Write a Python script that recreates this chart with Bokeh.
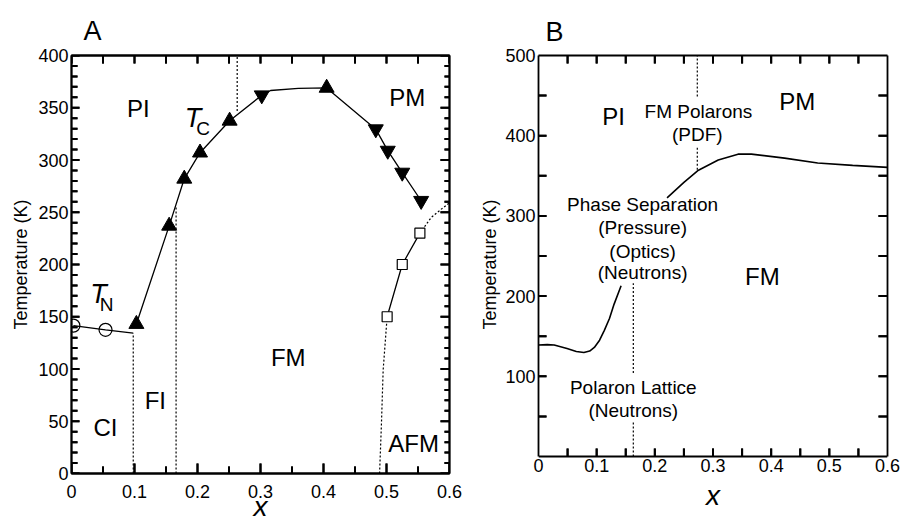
import math
from bokeh.plotting import figure
from bokeh.layouts import row
from bokeh.models import LinearAxis, FixedTicker, Range1d
from bokeh.core.properties import value
from bokeh.embed import file_html
from bokeh.resources import INLINE

FONT = "Liberation Sans"

# ---------------- Panel A data ----------------
tn_x = [0.003, 0.054]
tn_T = [141.5, 137.5]
tn_line_x = [0.003, 0.054, 0.098]
tn_line_T = [141.5, 137.5, 134.3]

tc_up_x = [0.103, 0.155, 0.179, 0.204, 0.251, 0.405]
tc_up_T = [143, 237, 282, 307, 337.5, 369]
tc_down_x = [0.302, 0.483, 0.502, 0.525, 0.555]
tc_down_T = [362, 329.5, 309, 288, 261]
tc_line_x = [0.103, 0.155, 0.179, 0.204, 0.251, 0.302, 0.316, 0.36, 0.405, 0.483, 0.502, 0.525, 0.555]
tc_line_T = [143, 237, 282, 307, 337.5, 362, 366.5, 368.5, 369, 329.5, 309, 288, 261]

afm_x = [0.501, 0.525, 0.553]
afm_T = [150, 200, 230]
afm_low_x = [0.489, 0.492, 0.4947, 0.501]
afm_low_T = [0, 48, 99, 150]
afm_high_x = [0.553, 0.571, 0.587, 0.6]
afm_high_T = [230, 245, 253, 259]

vA_x = [0.098, 0.166, 0.263]
vA_T0 = [0, 0, 347]
vA_T1 = [134.3, 255, 400]

A_lab_text = ["PI", "PM", "CI", "FI", "FM", "AFM"]
A_lab_x = [0.106, 0.533, 0.054, 0.133, 0.344, 0.543]
A_lab_T = [349, 359.5, 44, 70, 111, 29]

A_T_x = [0.193, 0.043]
A_T_T = [339.8, 172.2]
A_sub_text = ["C", "N"]
A_sub_x = [0.209, 0.0556]
A_sub_T = [330.3, 161.7]

# tick positions (panel A)
A_x_major = [0, 0.1, 0.2, 0.3, 0.4, 0.5, 0.6]
A_x_minor = [0.05, 0.15, 0.25, 0.35, 0.45, 0.55]
A_y_major = [0, 50, 100, 150, 200, 250, 300, 350, 400]
A_y_minor = [10, 20, 30, 40, 60, 70, 80, 90, 110, 120, 130, 140, 160, 170, 180, 190,
             210, 220, 230, 240, 260, 270, 280, 290, 310, 320, 330, 340, 360, 370, 380, 390]

# ---------------- Panel B data ----------------
b_low_x = [0, 0.015, 0.027, 0.049, 0.065, 0.078, 0.088, 0.096, 0.105, 0.113, 0.122, 0.13, 0.142]
b_low_T = [139, 139.5, 139, 134.6, 131, 129.6, 131.5, 136, 145, 157, 172, 190, 213]
b_high_x = [0.221, 0.25, 0.275, 0.309, 0.343, 0.366, 0.423, 0.48, 0.54, 0.6]
b_high_T = [322.5, 341.7, 357, 369.6, 377, 377, 372, 366, 363, 360.5]

vB_x = [0.273, 0.273, 0.163, 0.163]
vB_T0 = [449, 357.5, 104, 0]
vB_T1 = [500, 386, 216, 45]

B_big_text = ["PI", "PM", "FM"]
B_big_x = [0.129, 0.445, 0.385]
B_big_T = [423.75, 442.5, 224]

B_small_text = ["FM Polarons", "(PDF)", "Phase Separation", "(Pressure)", "(Optics)",
                "(Neutrons)", "Polaron Lattice", "(Neutrons)"]
B_small_x = [0.275, 0.273, 0.179, 0.179, 0.179, 0.179, 0.163, 0.163]
B_small_T = [430, 401, 314, 285, 255, 230, 86, 57.5]

# tick positions (panel B)
B_x_labels = [0, 0.1, 0.2, 0.3, 0.4, 0.5, 0.6]
B_x_ticks = [0.05, 0.1, 0.15, 0.2, 0.25, 0.3, 0.35, 0.4, 0.45, 0.5, 0.55]
B_y_labels = [100, 200, 300, 400, 500]
B_y_ticks = [50, 100, 150, 200, 250, 300, 350, 400, 450]

H = 525
TOP = 55
BOTTOM = H - 473
A_W, B_W = 470, 430
A_L, A_R = 71, 21
B_L, B_R = 68, 13
A_X_RANGE, A_Y_RANGE = (0, 0.6), (0, 400)
B_X_RANGE, B_Y_RANGE = (0, 0.6), (-21.2, 500)

# data units per screen pixel (for inward tick marks of fixed pixel length)
A_DX = (A_X_RANGE[1] - A_X_RANGE[0]) / (A_W - A_L - A_R)
A_DY = (A_Y_RANGE[1] - A_Y_RANGE[0]) / (H - TOP - BOTTOM)
B_DX = (B_X_RANGE[1] - B_X_RANGE[0]) / (B_W - B_L - B_R)
B_DY = (B_Y_RANGE[1] - B_Y_RANGE[0]) / (H - TOP - BOTTOM)

TICK_W = 2


def style_axis(ax, show_labels=True, standoff=3):
    ax.axis_line_width = 1.8
    ax.axis_line_color = "black"
    ax.major_tick_in = 0
    ax.major_tick_out = 0
    ax.minor_tick_in = 0
    ax.minor_tick_out = 0
    ax.major_tick_line_color = None
    ax.minor_tick_line_color = None
    ax.major_label_text_font = FONT
    ax.major_label_text_font_size = "18px"
    ax.major_label_text_color = "black"
    ax.major_label_standoff = standoff
    if not show_labels:
        ax.major_label_text_color = None
        ax.major_label_text_font_size = "0px"
        ax.major_label_standoff = 0


def ylabel(ax, standoff):
    ax.axis_label = "Temperature (K)"
    ax.axis_label_text_font = FONT
    ax.axis_label_text_font_size = "18px"
    ax.axis_label_text_font_style = "normal"
    ax.axis_label_text_color = "black"
    ax.axis_label_standoff = standoff


def xlabel(ax, standoff):
    ax.axis_label = "x"
    ax.axis_label_text_font = FONT
    ax.axis_label_text_font_size = "28px"
    ax.axis_label_text_font_style = "italic"
    ax.axis_label_text_color = "black"
    ax.axis_label_standoff = standoff


def panel_title(p, text, offset, standoff):
    p.title.text = text
    p.title.text_font = FONT
    p.title.text_font_size = "27px"
    p.title.text_font_style = "normal"
    p.title.text_color = "black"
    p.title.align = "left"
    p.title.offset = offset
    p.title.standoff = standoff


def ticks_x(p, xs, y_edge, length_px, dy):
    # vertical tick marks along a horizontal edge, pointing into the plot
    sign = 1 if length_px > 0 else -1
    L = abs(length_px)
    p.segment(x0=xs, y0=[y_edge] * len(xs), x1=xs, y1=[y_edge + sign * L * dy] * len(xs),
              line_color="black", line_width=TICK_W)
    p.scatter(x=xs, y=[y_edge + sign * 0.5 * L * dy] * len(xs), marker="dash", size=L,
              angle=math.pi / 2, line_color="black", line_width=TICK_W)


def ticks_y(p, ys, x_edge, length_px, dx):
    # horizontal tick marks along a vertical edge, pointing into the plot
    sign = 1 if length_px > 0 else -1
    L = abs(length_px)
    p.segment(x0=[x_edge] * len(ys), y0=ys, x1=[x_edge + sign * L * dx] * len(ys), y1=ys,
              line_color="black", line_width=TICK_W)
    p.scatter(x=[x_edge + sign * 0.5 * L * dx] * len(ys), y=ys, marker="dash", size=L,
              line_color="black", line_width=TICK_W)


# ---------------- Figure A ----------------
pA = figure(width=A_W, height=H, x_range=Range1d(*A_X_RANGE), y_range=Range1d(*A_Y_RANGE),
            output_backend="svg", toolbar_location=None,
            min_border_left=A_L, min_border_right=A_R, min_border_top=TOP, min_border_bottom=BOTTOM)
pA.xgrid.visible = False
pA.ygrid.visible = False
pA.outline_line_color = "black"
pA.outline_line_width = 1.8
pA.background_fill_color = None
pA.border_fill_color = "white"
panel_title(pA, "A", 12, 19)

pA.xaxis.ticker = FixedTicker(ticks=A_x_major)
pA.yaxis.ticker = FixedTicker(ticks=A_y_major)
style_axis(pA.xaxis[0], True, 11)
style_axis(pA.yaxis[0], True, 3)
ylabel(pA.yaxis[0], 4)
xlabel(pA.xaxis[0], -10)

axA_top = LinearAxis(ticker=FixedTicker(ticks=A_x_major))
style_axis(axA_top, False)
pA.add_layout(axA_top, "above")
axA_right = LinearAxis(ticker=FixedTicker(ticks=A_y_major))
style_axis(axA_right, False)
pA.add_layout(axA_right, "right")

# inward tick marks
ticks_x(pA, A_x_major, A_Y_RANGE[0], 10, A_DY)
ticks_x(pA, A_x_minor, A_Y_RANGE[0], 7, A_DY)
ticks_x(pA, A_x_major + A_x_minor, A_Y_RANGE[1], -8, A_DY)
ticks_y(pA, A_y_major, A_X_RANGE[0], 8, A_DX)
ticks_y(pA, A_y_minor, A_X_RANGE[0], 6, A_DX)
ticks_y(pA, A_y_major, A_X_RANGE[1], -9, A_DX)
ticks_y(pA, A_y_minor, A_X_RANGE[1], -5, A_DX)

# dotted boundaries
pA.segment(x0=vA_x, y0=vA_T0, x1=vA_x, y1=vA_T1, line_color="black", line_width=1.2, line_dash="2 2")
pA.line(afm_low_x, afm_low_T, line_color="black", line_width=1.2, line_dash="2 2")
pA.line(afm_high_x, afm_high_T, line_color="black", line_width=1.2, line_dash="2 2")

# solid lines
pA.line(tn_line_x, tn_line_T, line_color="black", line_width=1.3)
pA.line(tc_line_x, tc_line_T, line_color="black", line_width=1.3)
pA.line(afm_x, afm_T, line_color="black", line_width=1.3)

# markers
pA.scatter(tn_x, tn_T, marker="circle", size=13, fill_color=None, line_color="black", line_width=1.2)
pA.scatter(tc_up_x, tc_up_T, marker="triangle", size=15, fill_color="black", line_color="black")
pA.scatter(tc_down_x, tc_down_T, marker="inverted_triangle", size=15, fill_color="black", line_color="black")
pA.scatter(afm_x, afm_T, marker="square", size=10, fill_color="white", line_color="black", line_width=1.2)

# labels
pA.text(x=A_lab_x, y=A_lab_T, text=A_lab_text, text_font=value(FONT), text_font_size="24px",
        text_align="center", text_baseline="middle", text_color="black")
pA.text(x=A_T_x, y=A_T_T, text=["T", "T"], text_font=value(FONT), text_font_size="27px",
        text_font_style="italic", text_align="center", text_baseline="middle", text_color="black")
pA.text(x=A_sub_x, y=A_sub_T, text=A_sub_text, text_font=value(FONT), text_font_size="19px",
        text_align="center", text_baseline="middle", text_color="black")

# ---------------- Figure B ----------------
# The frame spans the same pixel rows as panel A; the visible box runs from 0 to 500 K.
pB = figure(width=B_W, height=H, x_range=Range1d(*B_X_RANGE), y_range=Range1d(*B_Y_RANGE),
            output_backend="svg", toolbar_location=None,
            min_border_left=B_L, min_border_right=B_R, min_border_top=TOP, min_border_bottom=BOTTOM)
pB.xgrid.visible = False
pB.ygrid.visible = False
pB.outline_line_color = None
pB.background_fill_color = None
pB.border_fill_color = "white"
panel_title(pB, "B", 7, 18)

# bottom rule drawn at T = 0
pB.xaxis.ticker = FixedTicker(ticks=B_x_labels)
pB.xaxis.fixed_location = 0
style_axis(pB.xaxis[0], False)

# tick labels and axis title for the bottom axis
axB_lab = LinearAxis(ticker=FixedTicker(ticks=B_x_labels))
style_axis(axB_lab, True, -15)
axB_lab.axis_line_color = None
xlabel(axB_lab, 5)
pB.add_layout(axB_lab, "below")

pB.yaxis.ticker = FixedTicker(ticks=B_y_labels)
pB.yaxis.bounds = (0, 500)
style_axis(pB.yaxis[0], True, 3)
ylabel(pB.yaxis[0], 2)

axB_top = LinearAxis(ticker=FixedTicker(ticks=B_x_labels))
style_axis(axB_top, False)
pB.add_layout(axB_top, "above")
axB_right = LinearAxis(ticker=FixedTicker(ticks=B_y_labels), bounds=(0, 500))
style_axis(axB_right, False)
pB.add_layout(axB_right, "right")

# inward tick marks
ticks_x(pB, B_x_ticks, 0, 8, B_DY)
ticks_x(pB, B_x_ticks, 500, -8, B_DY)
ticks_y(pB, B_y_ticks, B_X_RANGE[0], 8, B_DX)
ticks_y(pB, B_y_ticks, B_X_RANGE[1], -9, B_DX)

pB.segment(x0=vB_x, y0=vB_T0, x1=vB_x, y1=vB_T1, line_color="black", line_width=1.2, line_dash="2 2")
pB.line(b_low_x, b_low_T, line_color="black", line_width=1.6)
pB.line(b_high_x, b_high_T, line_color="black", line_width=1.6)

pB.text(x=B_big_x, y=B_big_T, text=B_big_text, text_font=value(FONT), text_font_size="24px",
        text_align="center", text_baseline="middle", text_color="black")
pB.text(x=B_small_x, y=B_small_T, text=B_small_text, text_font=value(FONT), text_font_size="19px",
        text_align="center", text_baseline="middle", text_color="black")

layout = row(pA, pB)
open("out.html", "w").write(file_html(layout, INLINE))
